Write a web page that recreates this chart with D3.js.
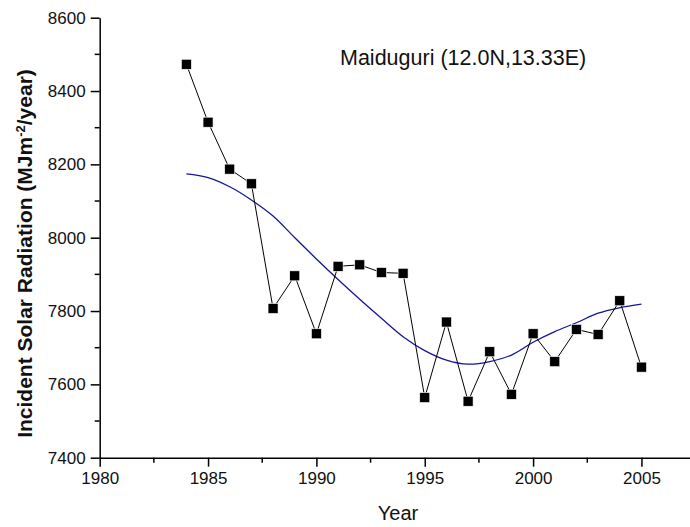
<!DOCTYPE html>
<html>
<head>
<meta charset="utf-8">
<script src="https://cdn.jsdelivr.net/npm/d3@7"></script>
<style>
  html, body { margin: 0; padding: 0; background: #fff; }
  svg { display: block; font-family: Arial, "Liberation Sans", sans-serif; }
</style>
</head>
<body>
<svg id="chart" width="690" height="527"></svg>
<script>
// Annual incident solar radiation at Maiduguri, 1984-2005
const years = [1984, 1985, 1986, 1987, 1988, 1989, 1990, 1991, 1992, 1993, 1994,
               1995, 1996, 1997, 1998, 1999, 2000, 2001, 2002, 2003, 2004, 2005];
const radiation = [8473, 8315, 8187, 8147, 7807, 7896, 7738, 7922, 7926, 7905, 7903,
                   7564, 7770, 7554, 7689, 7573, 7738, 7662, 7750, 7736, 7828, 7647];
// Smoothed trend through the same years
const trend = [8174, 8164, 8139, 8103, 8059, 8000, 7942, 7886, 7832, 7780, 7730,
               7692, 7666, 7655, 7662, 7680, 7715, 7744, 7768, 7794, 7809, 7819];

const xTicks = [1980, 1985, 1990, 1995, 2000, 2005];
const xMinor = [1982.5, 1987.5, 1992.5, 1997.5, 2002.5, 2007.5];
const yTicks = [7400, 7600, 7800, 8000, 8200, 8400, 8600];
const yMinor = [7500, 7700, 7900, 8100, 8300, 8500];

const svg = d3.select("#chart");
const plotLeft = 99.7, plotTop = 17.7, plotBottom = 457.7;
const pxPerYear = 21.67;

const x = d3.scaleLinear().domain([1980, 2008]).range([plotLeft, plotLeft + 28 * pxPerYear]);
const y = d3.scaleLinear().domain([7400, 8600]).range([plotBottom, plotTop]);

// Axes
const xAxis = d3.axisBottom(x).tickValues(xTicks).tickFormat(d3.format("d"))
  .tickSizeInner(9).tickSizeOuter(0).tickPadding(5);
const yAxis = d3.axisLeft(y).tickValues(yTicks).tickFormat(d3.format("d"))
  .tickSizeInner(9).tickSizeOuter(0).tickPadding(5);

const gx = svg.append("g").attr("transform", `translate(0,${plotBottom})`).call(xAxis);
const gy = svg.append("g").attr("transform", `translate(${plotLeft},0)`).call(yAxis);

[gx, gy].forEach(g => {
  g.select(".domain").attr("stroke", "#000").attr("stroke-width", 1.5);
  g.selectAll(".tick line").attr("stroke", "#000").attr("stroke-width", 1.5);
  g.selectAll(".tick text").attr("fill", "#111").style("font-size", "17px")
    .style("font-family", "Arial, 'Liberation Sans', sans-serif");
});

// Minor ticks
svg.append("g").selectAll("line").data(xMinor).join("line")
  .attr("x1", d => x(d)).attr("x2", d => x(d))
  .attr("y1", plotBottom).attr("y2", plotBottom + 5)
  .attr("stroke", "#000").attr("stroke-width", 1.5);
svg.append("g").selectAll("line").data(yMinor).join("line")
  .attr("x1", plotLeft).attr("x2", plotLeft - 5)
  .attr("y1", d => y(d)).attr("y2", d => y(d))
  .attr("stroke", "#000").attr("stroke-width", 1.5);

// Trend curve
const trendLine = d3.line()
  .x((d, i) => x(years[i])).y(d => y(d))
  .curve(d3.curveCatmullRom.alpha(0.5));
svg.append("path").datum(trend)
  .attr("d", trendLine)
  .attr("fill", "none").attr("stroke", "#14149e").attr("stroke-width", 1.3);

// Observed series
const obsLine = d3.line().x((d, i) => x(years[i])).y(d => y(d));
svg.append("path").datum(radiation)
  .attr("d", obsLine)
  .attr("fill", "none").attr("stroke", "#000").attr("stroke-width", 1);

const sz = 10;
svg.append("g").selectAll("rect").data(radiation).join("rect")
  .attr("x", (d, i) => x(years[i]) - sz / 2)
  .attr("y", d => y(d) - sz / 2)
  .attr("width", sz).attr("height", sz)
  .attr("fill", "#000").attr("stroke", "#fff").attr("stroke-width", 0.6);

// Station label
svg.append("text")
  .attr("x", 340).attr("y", 65)
  .style("font-size", "21.5px").attr("fill", "#111")
  .text("Maiduguri (12.0N,13.33E)");

// Axis titles
svg.append("text")
  .attr("x", 398).attr("y", 520).attr("text-anchor", "middle")
  .style("font-size", "20px").attr("fill", "#111")
  .text("Year");

const yt = svg.append("text")
  .attr("transform", "translate(32,253.5) rotate(-90)")
  .attr("text-anchor", "middle")
  .style("font-size", "21px").style("font-weight", "bold").attr("fill", "#111");
yt.append("tspan").text("Incident Solar Radiation (MJm");
yt.append("tspan").attr("dy", -7).style("font-size", "13px").text("-2");
yt.append("tspan").attr("dy", 7).text("/year)");
</script>
</body>
</html>
